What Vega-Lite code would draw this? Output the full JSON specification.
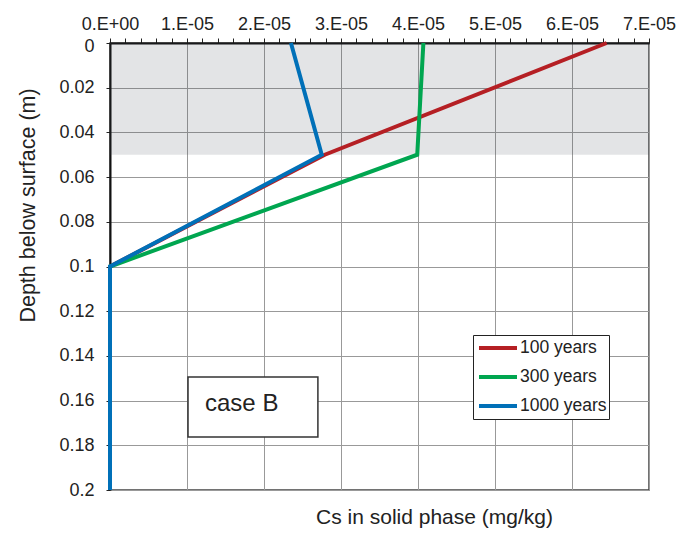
{
  "$schema": "https://vega.github.io/schema/vega-lite/v6.json",
  "width": 539,
  "height": 447,
  "autosize": "none",
  "padding": {"left": 110, "top": 43, "right": 44, "bottom": 44},
  "background": "white",
  "config": {
    "font": "Liberation Sans",
    "view": {"stroke": "#444", "strokeWidth": 1.5}
  },
  "title": {
    "text": "Cs in solid phase (mg/kg)",
    "orient": "bottom",
    "anchor": "middle",
    "dx": 55,
    "offset": 8,
    "fontSize": 21,
    "fontWeight": "normal",
    "color": "#222",
    "font": "Liberation Sans"
  },
  "datasets": {
    "profiles": [
      {"series": "100 years", "depth": 0, "cs": 6.45e-5},
      {"series": "100 years", "depth": 0.05, "cs": 2.79e-5},
      {"series": "100 years", "depth": 0.1, "cs": 0},
      {"series": "100 years", "depth": 0.2, "cs": 0},
      {"series": "300 years", "depth": 0, "cs": 4.07e-5},
      {"series": "300 years", "depth": 0.05, "cs": 3.99e-5},
      {"series": "300 years", "depth": 0.1, "cs": 0},
      {"series": "300 years", "depth": 0.2, "cs": 0},
      {"series": "1000 years", "depth": 0, "cs": 2.35e-5},
      {"series": "1000 years", "depth": 0.05, "cs": 2.75e-5},
      {"series": "1000 years", "depth": 0.1, "cs": 0},
      {"series": "1000 years", "depth": 0.2, "cs": 0}
    ],
    "zone": [
      {"cs": 0, "cs2": 7e-5, "depth": 0, "depth2": 0.05}
    ],
    "noteBox": [
      {"cs": 1.013e-5, "cs2": 2.70e-5, "depth": 0.1494, "depth2": 0.1763}
    ],
    "noteText": [
      {"cs": 1.234e-5, "depth": 0.1615, "label": "case B"}
    ]
  },
  "encoding": {
    "x": {
      "field": "cs",
      "type": "quantitative",
      "scale": {"domain": [0, 7e-5], "nice": false, "zero": false},
      "axis": {
        "orient": "top",
        "title": null,
        "values": [0, 2e-6, 4e-6, 6e-6, 8e-6, 1e-5, 1.2e-5, 1.4e-5, 1.6e-5, 1.8e-5, 2e-5, 2.2e-5, 2.4e-5, 2.6e-5, 2.8e-5, 3e-5, 3.2e-5, 3.4e-5, 3.6e-5, 3.8e-5, 4e-5, 4.2e-5, 4.4e-5, 4.6e-5, 4.8e-5, 5e-5, 5.2e-5, 5.4e-5, 5.6e-5, 5.8e-5, 6e-5, 6.2e-5, 6.4e-5, 6.6e-5, 6.8e-5, 7e-5],
        "labelExpr": "abs(datum.value*1e5 - round(datum.value*1e5)) < 1e-6 ? (datum.value == 0 ? '0.E+00' : round(datum.value*1e5) + '.E-05') : ''",
        "labelFontSize": 18,
        "labelColor": "#222",
        "labelPadding": 5,
        "labelOverlap": false,
        "labelFlush": false,
        "tickSize": 5,
        "tickColor": "#222",
        "tickWidth": 1,
        "domainColor": "#111",
        "domainWidth": 2,
        "grid": true,
        "gridColor": "#999",
        "gridWidth": 1,
        "gridOpacity": {"condition": {"test": "abs(datum.value*1e5 - round(datum.value*1e5)) < 1e-6", "value": 1}, "value": 0}
      }
    },
    "y": {
      "field": "depth",
      "type": "quantitative",
      "scale": {"domain": [0, 0.2], "nice": false, "zero": false, "reverse": true},
      "axis": {
        "orient": "left",
        "title": "Depth below surface (m)",
        "titleFontSize": 21.5,
        "titleFontWeight": "normal",
        "titleColor": "#222",
        "titleX": -82,
        "titleY": 162,
        "titleAngle": -90,
        "titleAlign": "center",
        "titleBaseline": "middle",
        "values": [0, 0.02, 0.04, 0.06, 0.08, 0.1, 0.12, 0.14, 0.16, 0.18, 0.2],
        "format": ".2~f",
        "labelFontSize": 18,
        "labelColor": "#222",
        "labelPadding": 12,
        "labelOffset": {"condition": {"test": "datum.value == 0", "value": 3}, "value": 0},
        "labelOverlap": false,
        "labelFlush": false,
        "tickSize": 4,
        "tickColor": "#222",
        "domainColor": "#111",
        "domainWidth": 2,
        "grid": true,
        "gridColor": "#999",
        "gridWidth": 1
      }
    }
  },
  "layer": [
    {
      "data": {"name": "zone"},
      "mark": {"type": "rect", "fill": "#404858", "opacity": 0.15},
      "encoding": {
        "x2": {"field": "cs2"},
        "y2": {"field": "depth2"}
      }
    },
    {
      "data": {"name": "noteBox"},
      "mark": {"type": "rect", "fill": "white", "stroke": "#333", "strokeWidth": 1.5},
      "encoding": {
        "x2": {"field": "cs2"},
        "y2": {"field": "depth2"}
      }
    },
    {
      "data": {"name": "noteText"},
      "mark": {"type": "text", "align": "left", "baseline": "middle", "fontSize": 24, "color": "#222", "font": "Liberation Sans"},
      "encoding": {
        "text": {"field": "label"}
      }
    },
    {
      "data": {"name": "profiles"},
      "mark": {"type": "line", "strokeWidth": 4, "strokeJoin": "miter", "strokeCap": "butt"},
      "encoding": {
        "order": {"field": "depth", "type": "quantitative"},
        "color": {
          "field": "series",
          "type": "nominal",
          "scale": {"domain": ["100 years", "300 years", "1000 years"], "range": ["#b51f24", "#00a650", "#0070b8"]},
          "legend": {
            "orient": "none",
            "legendX": 363,
            "legendY": 292,
            "title": null,
            "symbolType": "stroke",
            "symbolSize": 1444,
            "symbolStrokeWidth": 4,
            "symbolOffset": 2,
            "clipHeight": 22,
            "rowPadding": 7,
            "labelFontSize": 17.5,
            "labelFont": "Liberation Sans",
            "labelColor": "#222",
            "labelOffset": 1,
            "strokeColor": "#222",
            "fillColor": "white",
            "padding": 2
          }
        }
      }
    }
  ]
}
